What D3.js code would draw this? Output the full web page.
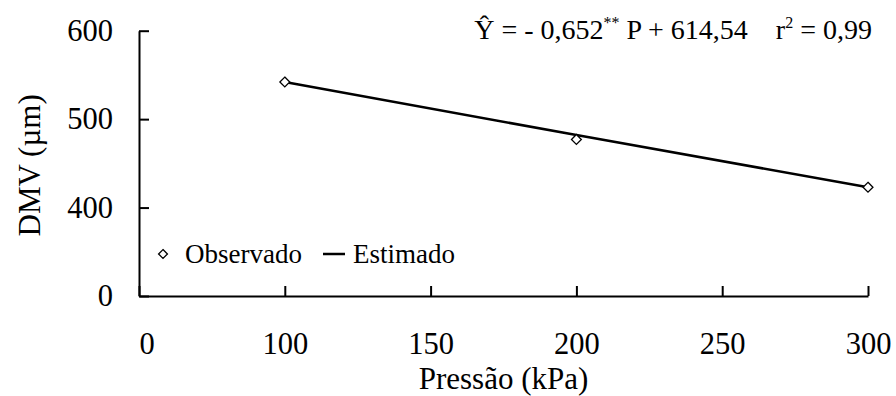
<!DOCTYPE html>
<html>
<head>
<meta charset="utf-8">
<script src="https://cdn.jsdelivr.net/npm/d3@7"></script>
<style>
  html, body { margin: 0; padding: 0; background: #fff; }
  svg { display: block; font-family: "Liberation Serif", "Times New Roman", serif; }
  text { white-space: pre; fill: #000; }
</style>
</head>
<body>
<svg id="chart" width="896" height="396"></svg>
<script>
// Pressure levels (kPa) and droplet size (µm)
const pressure = [100, 200, 300];
const observed = [542, 477, 423];
const estimated = [542, 482, 423];

// Broken axes: the first tick stands for zero
const xTickValues = [50, 100, 150, 200, 250, 300];
const xTickLabels = ["0", "100", "150", "200", "250", "300"];
const yTickValues = [300, 400, 500, 600];
const yTickLabels = ["0", "400", "500", "600"];

const legendLabels = ["Observado", "Estimado"];
const xTitle = "Pressão (kPa)";
const yTitle = "DMV (µm)";

const serif = '"Liberation Serif", "Times New Roman", serif';
const svg = d3.select("#chart");

const x = d3.scaleLinear().domain([50, 300]).range([139, 868]);
const y = d3.scaleLinear().domain([300, 600]).range([296, 30.7]);

// X axis
const xAxis = d3.axisBottom(x)
  .tickValues(xTickValues)
  .tickFormat((d, i) => xTickLabels[i])
  .tickSizeInner(-10)
  .tickSizeOuter(0)
  .tickPadding(36);
const gx = svg.append("g").attr("transform", `translate(0,${y(300)})`).call(xAxis);
gx.selectAll("text")
  .style("font-family", serif).style("font-size", "30.5px").style("fill", "#000");
gx.selectAll("text").filter((d, i) => i === 0).attr("text-anchor", "start");

// Y axis
const yAxis = d3.axisLeft(y)
  .tickValues(yTickValues)
  .tickFormat((d, i) => yTickLabels[i])
  .tickSizeInner(-10)
  .tickSizeOuter(0)
  .tickPadding(26);
const gy = svg.append("g").attr("transform", `translate(${x(50)},0)`).call(yAxis);
gy.selectAll("text")
  .style("font-family", serif).style("font-size", "30.5px").style("fill", "#000");

svg.selectAll(".domain, .tick line").attr("stroke", "#000").attr("stroke-width", 2);

// Axis titles
svg.append("text")
  .attr("x", (x.range()[0] + x.range()[1]) / 2)
  .attr("y", 389)
  .attr("text-anchor", "middle")
  .attr("font-size", 31)
  .text(xTitle);

svg.append("text")
  .attr("transform", `translate(40,${(y.range()[0] + y.range()[1]) / 2 + 2}) rotate(-90)`)
  .attr("text-anchor", "middle")
  .attr("font-size", 31)
  .text(yTitle);

// Fitted line
const pts = pressure.map((p, i) => ({ p, obs: observed[i], est: estimated[i] }));
svg.append("path")
  .datum(pts)
  .attr("fill", "none")
  .attr("stroke", "#000")
  .attr("stroke-width", 2.5)
  .attr("d", d3.line().x(d => x(d.p)).y(d => y(d.est)));

// Observed markers
const diamond = d3.symbol().type(d3.symbolDiamond2).size(62);
svg.selectAll(".obs")
  .data(pts)
  .join("path")
  .attr("class", "obs")
  .attr("transform", d => `translate(${x(d.p)},${y(d.obs)})`)
  .attr("d", diamond)
  .attr("fill", "#fff")
  .attr("stroke", "#000")
  .attr("stroke-width", 1.3);

// Legend
const lg = svg.append("g");
lg.append("path")
  .attr("transform", "translate(163,254)")
  .attr("d", d3.symbol().type(d3.symbolDiamond2).size(50))
  .attr("fill", "#fff")
  .attr("stroke", "#000")
  .attr("stroke-width", 1.3);
lg.append("text").attr("x", 185).attr("y", 263).attr("font-size", 27).text(legendLabels[0]);
lg.append("line")
  .attr("x1", 323).attr("x2", 345).attr("y1", 254).attr("y2", 254)
  .attr("stroke", "#000").attr("stroke-width", 2.5);
lg.append("text").attr("x", 353).attr("y", 263).attr("font-size", 27).text(legendLabels[1]);

// Regression equation
const eq = svg.append("text")
  .attr("x", 872)
  .attr("y", 39)
  .attr("text-anchor", "end")
  .attr("font-size", 28);
eq.append("tspan").text("Ŷ = - 0,652");
eq.append("tspan").attr("font-size", 16).attr("dy", -11).text("**");
eq.append("tspan").attr("dy", 11).text(" P + 614,54    r");
eq.append("tspan").attr("font-size", 16).attr("dy", -11).text("2");
eq.append("tspan").attr("dy", 11).text(" = 0,99");
</script>
</body>
</html>
